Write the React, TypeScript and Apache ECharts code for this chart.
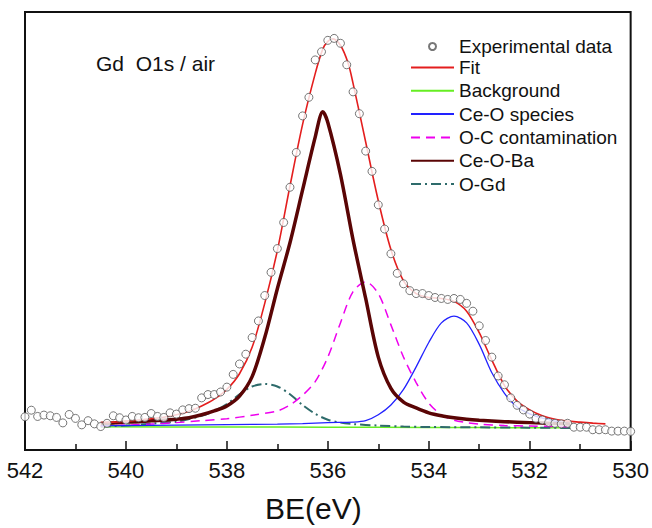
import React, { useEffect, useRef } from "react";
import * as echarts from "echarts";

// Experimental data (binding energy, intensity in a.u.)
const EXP_BE = [542.0, 541.875, 541.75, 541.625, 541.5, 541.375, 541.25, 541.125, 541.0, 540.875, 540.75, 540.625, 540.5, 540.375, 540.25, 540.125, 540.0, 539.875, 539.75, 539.625, 539.5, 539.375, 539.25, 539.125, 539.0, 538.875, 538.75, 538.625, 538.5, 538.375, 538.25, 538.125, 538.0, 537.875, 537.75, 537.625, 537.5, 537.375, 537.25, 537.125, 537.0, 536.875, 536.75, 536.625, 536.5, 536.375, 536.25, 536.125, 536.0, 535.875, 535.75, 535.625, 535.5, 535.375, 535.25, 535.125, 535.0, 534.875, 534.75, 534.625, 534.5, 534.375, 534.25, 534.125, 534.0, 533.875, 533.75, 533.625, 533.5, 533.375, 533.25, 533.125, 533.0, 532.875, 532.75, 532.625, 532.5, 532.375, 532.25, 532.125, 532.0, 531.875, 531.75, 531.625, 531.5, 531.375, 531.25, 531.125, 531.0, 530.875, 530.75, 530.625, 530.5, 530.375, 530.25, 530.125, 530.0];
const EXP_CPS = [850, 1018, 858, 893, 875, 833, 693, 908, 808, 643, 750, 668, 600, 683, 875, 825, 768, 858, 825, 833, 933, 858, 833, 950, 918, 1025, 1058, 1068, 1333, 1418, 1418, 1483, 1608, 1933, 2200, 2450, 2875, 3300, 3950, 4543, 5150, 5818, 6718, 7608, 8543, 9018, 9975, 10183, 10475, 10525, 10400, 9850, 9158, 8600, 7643, 7125, 6268, 5650, 5018, 4518, 4250, 4075, 4000, 4000, 3950, 3900, 3875, 3850, 3875, 3850, 3750, 3550, 3175, 2800, 2375, 1893, 1668, 1333, 1143, 1025, 918, 808, 768, 708, 683, 668, 683, 583, 583, 583, 518, 518, 518, 483, 483, 483, 475];

// Fit envelope
const FIT_BE = [540.5, 540.25, 540, 539.75, 539.5, 539.25, 539, 538.75, 538.5, 538.25, 538, 537.75, 537.5, 537.25, 537, 536.75, 536.5, 536.25, 536.1, 536, 535.9, 535.75, 535.6, 535.5, 535.25, 535, 534.75, 534.5, 534.25, 534, 533.75, 533.5, 533.25, 533, 532.75, 532.5, 532.25, 532, 531.75, 531.5, 531.25, 531, 530.75, 530.5];
const FIT_CPS = [700, 713, 738, 763, 800, 838, 900, 988, 1125, 1300, 1550, 1950, 2625, 3750, 5100, 6750, 8325, 9625, 10250, 10450, 10513, 10350, 9900, 9375, 7875, 6375, 5125, 4325, 4000, 3900, 3875, 3800, 3550, 3000, 2300, 1650, 1250, 1025, 875, 788, 738, 713, 688, 668];

// Background
const BG_BE = [540.5, 538, 536, 534, 532, 531.2];
const BG_CPS = [593, 588, 583, 575, 570, 568];

// Ce-O species
const CEO_BE = [540.5, 540, 539, 538, 537, 536.5, 536, 535.5, 535.25, 535, 534.75, 534.5, 534.25, 534, 533.75, 533.5, 533.25, 533, 532.75, 532.5, 532.25, 532, 531.75, 531.5, 531.2];
const CEO_CPS = [625, 625, 638, 650, 663, 675, 700, 713, 750, 900, 1150, 1550, 2125, 2750, 3250, 3425, 3250, 2700, 1975, 1450, 1100, 925, 813, 738, 680];

// O-C contamination
const OC_BE = [540.5, 540, 539.5, 539, 538.5, 538, 537.5, 537, 536.75, 536.5, 536.25, 536, 535.75, 535.5, 535.25, 535, 534.75, 534.5, 534.25, 534, 533.75, 533.5, 533.25, 533, 532.5, 532, 531.5, 531.2];
const OC_CPS = [613, 638, 663, 700, 750, 800, 888, 1000, 1150, 1400, 1750, 2375, 3250, 4050, 4300, 4000, 3200, 2375, 1725, 1200, 900, 763, 700, 663, 625, 613, 600, 593];

// Ce-O-Ba
const CEOBA_BE = [540.5, 540.25, 540, 539.75, 539.5, 539.25, 539, 538.75, 538.5, 538.25, 538, 537.75, 537.5, 537.25, 537, 536.75, 536.5, 536.25, 536.1, 536, 535.75, 535.5, 535.25, 535, 534.75, 534.5, 534.25, 534, 533.75, 533.5, 533.25, 533, 532.5, 532, 531.5, 531.2];
const CEOBA_CPS = [675, 688, 713, 725, 750, 763, 788, 825, 900, 1000, 1125, 1375, 1875, 2875, 4125, 5300, 6650, 8000, 8650, 8375, 7050, 5375, 3875, 2375, 1575, 1225, 1075, 950, 875, 825, 788, 763, 725, 700, 675, 663];

// O-Gd
const OGD_BE = [540.5, 540, 539.5, 539, 538.5, 538.25, 538, 537.75, 537.5, 537.25, 537, 536.75, 536.5, 536.25, 536, 535.75, 535.5, 535, 534.5, 534, 533, 532, 531.2];
const OGD_CPS = [600, 625, 675, 725, 875, 1000, 1175, 1425, 1625, 1688, 1625, 1425, 1150, 925, 775, 700, 663, 625, 600, 588, 580, 572, 563];

const X_TICKS = [530, 542];
const TITLE = "Gd  O1s / air";

const pairs = (xs: number[], ys: number[]) => xs.map((x, i) => [x, ys[i]]);

export default function App() {
  const ref = useRef<HTMLDivElement>(null);
  useEffect(() => {
    if (!ref.current) return;
    const chart = echarts.init(ref.current, null, { renderer: "svg" });
    const font = "'Liberation Sans', Arial, Helvetica, sans-serif";
    const lineSeries = (name: string, xs: number[], ys: number[], color: string, width: number, type: any, z: number) => ({
      name,
      type: "line",
      data: pairs(xs, ys),
      showSymbol: false,
      symbol: "none",
      smooth: 0.3,
      lineStyle: { color, width, type },
      itemStyle: { color },
      z,
      silent: true,
    });
    chart.setOption({
      animation: false,
      backgroundColor: "#ffffff",
      textStyle: { fontFamily: font },
      grid: { left: 25, right: 21, top: 12, bottom: 68, show: true, borderColor: "#111", borderWidth: 2, backgroundColor: "transparent" },
      xAxis: {
        type: "value",
        min: X_TICKS[0],
        max: X_TICKS[1],
        interval: 2,
        inverse: true,
        name: "BE(eV)",
        nameLocation: "middle",
        nameGap: 43,
        nameTextStyle: { fontSize: 30, color: "#111", fontFamily: font, padding: [0, 29, 0, 0] },
        axisLine: { show: true, onZero: false, lineStyle: { color: "#111", width: 2 } },
        axisTick: { show: true, inside: true, length: 9, lineStyle: { color: "#111", width: 1.5 } },
        minorTick: { show: true, splitNumber: 2, length: 6, lineStyle: { color: "#111", width: 1.5 } },
        axisLabel: { fontSize: 22, color: "#111", margin: 9, fontFamily: font },
        splitLine: { show: false },
      },
      yAxis: { type: "value", min: 0, max: 11200, show: false },
      legend: [
        {
          data: ["Experimental data"],
          left: 423,
          top: 30,
          orient: "vertical",
          itemWidth: 43,
          itemHeight: 7,
          selectedMode: false,
          textStyle: { fontSize: 19, color: "#111", fontFamily: font, lineHeight: 23 },
        },
        {
          data: ["Fit", "Background", "Ce-O species", "O-C contamination", "Ce-O-Ba", "O-Gd"],
          left: 405,
          top: 51,
          orient: "vertical",
          itemWidth: 43,
          itemHeight: 14,
          itemGap: 0.3,
          selectedMode: false,
          itemStyle: { opacity: 0 },
          textStyle: { fontSize: 19, color: "#111", fontFamily: font, lineHeight: 23 },
        },
      ],
      graphic: [
        { type: "text", left: 96, top: 53, style: { text: TITLE, fontSize: 21, fill: "#111", fontFamily: font } },
      ],
      series: [
        lineSeries("Background", BG_BE, BG_CPS, "#66ee22", 1.5, "solid", 2),
        lineSeries("O-Gd", OGD_BE, OGD_CPS, "#2e6b6b", 2, [10, 4, 2, 4], 3),
        lineSeries("O-C contamination", OC_BE, OC_CPS, "#ee00ee", 1.5, [9, 6], 3),
        lineSeries("Ce-O species", CEO_BE, CEO_CPS, "#2222ff", 1.3, "solid", 3),
        lineSeries("Ce-O-Ba", CEOBA_BE, CEOBA_CPS, "#5a0505", 3.5, "solid", 4),
        lineSeries("Fit", FIT_BE, FIT_CPS, "#e41e1e", 1.6, "solid", 5),
        {
          name: "Experimental data",
          type: "scatter",
          data: pairs(EXP_BE, EXP_CPS),
          symbol: "circle",
          symbolSize: 8,
          itemStyle: { color: "#ffffff", borderColor: "#555", borderWidth: 1 },
          z: 10,
          silent: true,
        },
      ],
    });
    return () => chart.dispose();
  }, []);
  return <div ref={ref} style={{ position: "fixed", left: 0, top: 0, width: 652, height: 528 }} />;
}
